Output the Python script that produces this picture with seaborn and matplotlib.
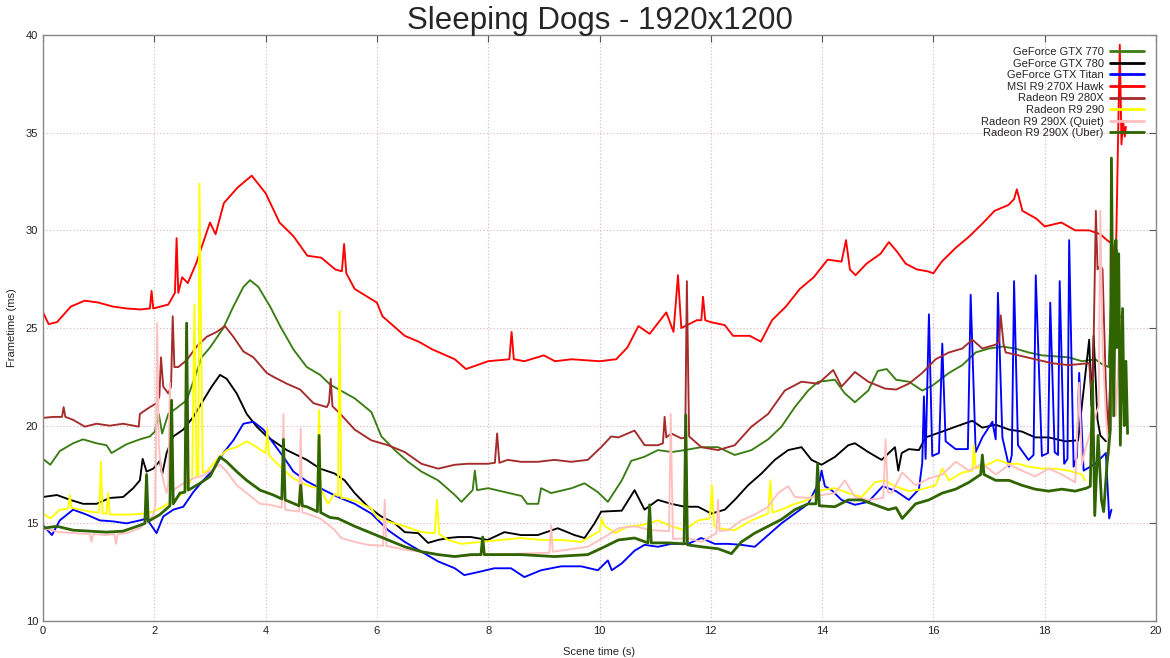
import matplotlib
matplotlib.use("Agg")
import matplotlib.pyplot as plt
from matplotlib import font_manager
from matplotlib.lines import Line2D
import pandas as pd
import seaborn as sns

# frametime readings (scene time s, frametime ms) per card
gtx770 = [(0, 18.3), (0.13, 18.0), (0.3, 18.7), (0.54, 19.1), (0.72, 19.3), (0.96, 19.1), (1.14, 19.0),
          (1.23, 18.6), (1.32, 18.75), (1.5, 19.05), (1.74, 19.3), (1.92, 19.45), (2.01, 19.7), (2.08, 20.6),
          (2.14, 19.6), (2.25, 20.6), (2.4, 20.9), (2.58, 21.3), (2.73, 22.5), (2.85, 23.5), (3.0, 24.0),
          (3.24, 25.0), (3.42, 26.1), (3.6, 27.1), (3.72, 27.45), (3.87, 27.1), (4.08, 26.1), (4.26, 25.1),
          (4.5, 23.9), (4.74, 23.0), (4.98, 22.6), (5.16, 22.1), (5.6, 21.4), (5.9, 20.7), (6.08, 19.45),
          (6.32, 18.75), (6.56, 18.15), (6.8, 17.65), (7.1, 17.2), (7.4, 16.45), (7.52, 16.1), (7.72, 16.7),
          (7.76, 17.7), (7.8, 16.7), (8.0, 16.8), (8.3, 16.6), (8.6, 16.4), (8.7, 16.0), (8.9, 16.0),
          (8.95, 16.8), (9.13, 16.55), (9.5, 16.8), (9.73, 17.05), (9.97, 16.6), (10.15, 16.1), (10.4, 17.2),
          (10.57, 18.2), (10.8, 18.4), (11.05, 18.75), (11.3, 18.65), (11.53, 18.75), (11.83, 18.9),
          (12.13, 18.9), (12.43, 18.5), (12.73, 18.75), (13.03, 19.3), (13.27, 19.95), (13.51, 20.95),
          (13.75, 21.8), (13.93, 22.25), (14.23, 22.35), (14.41, 21.65), (14.59, 21.2), (14.83, 21.8),
          (15.0, 22.8), (15.16, 22.9), (15.33, 22.35), (15.56, 22.25), (15.8, 21.8), (15.98, 22.05),
          (16.28, 22.7), (16.52, 23.1), (16.76, 23.75), (17.0, 23.95), (17.24, 24.05), (17.47, 23.95),
          (17.71, 23.75), (17.95, 23.6), (18.19, 23.55), (18.43, 23.5), (18.67, 23.3), (18.91, 23.4),
          (19.0, 23.2), (19.15, 23.0), (19.22, 28.5), (19.26, 26.9), (19.3, 29.0), (19.35, 22.0), (19.4, 25.5)]

gtx780 = [(0, 16.35), (0.25, 16.45), (0.49, 16.2), (0.72, 16.0), (0.96, 16.0), (1.2, 16.3), (1.44, 16.35),
          (1.62, 16.8), (1.74, 17.2), (1.79, 18.3), (1.86, 17.65), (1.98, 17.8), (2.1, 18.2), (2.14, 17.5),
          (2.22, 18.6), (2.34, 19.45), (2.52, 19.8), (2.7, 20.45), (2.88, 21.3), (3.03, 22.0), (3.18, 22.6),
          (3.3, 22.4), (3.48, 21.65), (3.66, 20.6), (3.84, 19.95), (4.02, 19.45), (4.2, 19.1), (4.38, 18.75),
          (4.56, 18.5), (4.74, 18.25), (4.98, 17.8), (5.24, 17.55), (5.42, 17.2), (5.6, 16.55), (5.84, 15.85),
          (6.08, 15.35), (6.32, 15.0), (6.5, 14.55), (6.74, 14.5), (6.92, 14.0), (7.1, 14.15), (7.28, 14.25),
          (7.46, 14.3), (7.69, 14.3), (7.99, 14.15), (8.29, 14.55), (8.59, 14.4), (8.89, 14.4), (9.25, 14.75),
          (9.55, 14.4), (9.73, 14.25), (9.91, 15.0), (10.03, 15.6), (10.4, 15.65), (10.63, 16.7), (10.81, 15.7),
          (11.05, 16.2), (11.29, 16.0), (11.53, 15.85), (11.77, 15.85), (12.01, 15.5), (12.25, 15.7),
          (12.43, 16.2), (12.67, 16.95), (12.91, 17.55), (13.15, 18.25), (13.39, 18.75), (13.63, 18.9),
          (13.81, 18.25), (13.99, 18.0), (14.23, 18.4), (14.47, 19.0), (14.59, 19.1), (14.83, 18.65),
          (15.07, 18.25), (15.31, 18.9), (15.37, 17.7), (15.43, 18.6), (15.56, 18.8), (15.74, 18.75),
          (15.86, 19.4), (16.16, 19.7), (16.4, 19.95), (16.7, 20.25), (16.88, 19.9), (17.12, 20.05),
          (17.36, 19.8), (17.59, 19.7), (17.83, 19.4), (18.07, 19.4), (18.37, 19.2), (18.6, 19.25),
          (18.8, 24.4), (18.84, 21.0), (18.88, 24.6), (18.95, 20.3), (19.0, 19.5), (19.1, 19.2)]

titan = [(0, 14.9), (0.16, 14.4), (0.3, 15.15), (0.54, 15.7), (0.78, 15.45), (1.02, 15.15), (1.26, 15.1),
         (1.5, 15.0), (1.74, 15.15), (1.86, 15.25), (2.04, 14.5), (2.16, 15.35), (2.34, 15.7), (2.52, 15.85),
         (2.7, 16.6), (2.88, 17.2), (3.06, 17.75), (3.24, 18.6), (3.42, 19.25), (3.6, 20.1), (3.78, 20.2),
         (3.96, 19.8), (4.14, 19.1), (4.32, 18.4), (4.5, 17.65), (4.74, 17.15), (4.98, 16.8), (5.3, 16.35),
         (5.6, 16.0), (5.9, 15.5), (6.2, 14.65), (6.5, 14.05), (6.8, 13.55), (7.1, 13.05), (7.4, 12.7),
         (7.57, 12.35), (7.81, 12.5), (8.11, 12.7), (8.41, 12.7), (8.65, 12.25), (8.95, 12.6), (9.31, 12.8),
         (9.67, 12.8), (9.97, 12.6), (10.15, 13.1), (10.22, 12.6), (10.4, 12.95), (10.63, 13.6), (10.81, 13.9),
         (11.05, 13.8), (11.29, 13.95), (11.59, 13.95), (11.83, 14.25), (12.07, 13.95), (12.31, 13.95),
         (12.55, 13.9), (12.79, 13.8), (13.03, 14.4), (13.27, 15.0), (13.51, 15.5), (13.75, 16.0),
         (13.96, 17.2), (13.99, 17.7), (14.05, 16.9), (14.17, 16.7), (14.35, 16.2), (14.59, 15.95),
         (14.83, 16.1), (15.09, 16.9), (15.33, 16.65), (15.56, 16.2), (15.74, 16.75), (15.8, 18.1),
         (15.83, 21.5), (15.86, 18.3), (15.92, 25.7), (15.98, 18.45), (16.1, 18.6), (16.16, 24.2),
         (16.22, 19.2), (16.4, 18.8), (16.62, 18.8), (16.67, 26.7), (16.76, 18.65), (16.88, 19.4),
         (17.06, 20.2), (17.12, 19.3), (17.16, 26.8), (17.24, 19.4), (17.36, 17.9), (17.41, 18.5),
         (17.45, 27.4), (17.52, 19.0), (17.71, 18.25), (17.8, 18.5), (17.84, 27.7), (17.95, 18.45),
         (18.06, 18.6), (18.1, 26.3), (18.18, 18.65), (18.24, 18.5), (18.27, 27.4), (18.35, 18.05),
         (18.41, 18.3), (18.44, 29.5), (18.52, 17.9), (18.58, 18.4), (18.62, 22.7), (18.7, 17.7),
         (18.91, 18.05), (19.1, 18.6), (19.16, 15.25), (19.2, 15.7)]

hawk = [(0, 25.8), (0.1, 25.2), (0.25, 25.3), (0.5, 26.1), (0.75, 26.4), (1.0, 26.3), (1.25, 26.1),
        (1.5, 26.0), (1.75, 25.95), (1.92, 26.0), (1.95, 26.9), (1.98, 26.0), (2.25, 26.2), (2.37, 26.8),
        (2.4, 29.6), (2.43, 26.8), (2.5, 27.6), (2.6, 27.3), (2.75, 28.3), (3.0, 30.4), (3.1, 29.8),
        (3.25, 31.4), (3.5, 32.2), (3.75, 32.8), (4.0, 31.9), (4.25, 30.4), (4.5, 29.7), (4.75, 28.7),
        (5.0, 28.6), (5.25, 28.0), (5.37, 27.9), (5.41, 29.3), (5.45, 27.8), (5.6, 27.0), (6.0, 26.3),
        (6.1, 25.6), (6.5, 24.6), (6.75, 24.3), (7.0, 23.9), (7.4, 23.4), (7.6, 22.9), (8.0, 23.3),
        (8.38, 23.4), (8.42, 24.8), (8.46, 23.4), (8.65, 23.3), (9.0, 23.6), (9.2, 23.3), (9.5, 23.4),
        (10.0, 23.3), (10.3, 23.4), (10.5, 24.0), (10.7, 25.1), (10.9, 24.7), (11.2, 25.8), (11.33, 24.8),
        (11.41, 27.7), (11.47, 25.0), (11.75, 25.4), (11.83, 25.4), (11.86, 26.6), (11.9, 25.4),
        (12.0, 25.3), (12.25, 25.15), (12.4, 24.6), (12.7, 24.6), (12.9, 24.3), (13.1, 25.4), (13.35, 26.1),
        (13.6, 27.0), (13.85, 27.6), (14.1, 28.5), (14.35, 28.4), (14.43, 29.5), (14.5, 28.0), (14.6, 27.7),
        (14.8, 28.3), (15.05, 28.8), (15.2, 29.4), (15.35, 28.9), (15.5, 28.3), (15.7, 28.0), (15.9, 27.9),
        (16.0, 27.8), (16.15, 28.4), (16.4, 29.1), (16.65, 29.7), (16.9, 30.4), (17.1, 31.0), (17.35, 31.3),
        (17.45, 31.6), (17.5, 32.1), (17.6, 31.0), (17.85, 30.6), (18.0, 30.2), (18.3, 30.4), (18.55, 30.0),
        (18.8, 30.0), (19.0, 29.8), (19.12, 29.5), (19.22, 29.3), (19.27, 27.0), (19.35, 39.5),
        (19.38, 34.4), (19.41, 35.6), (19.44, 34.8), (19.46, 35.3)]

r280x = [(0, 20.4), (0.19, 20.45), (0.34, 20.45), (0.37, 20.95), (0.4, 20.45), (0.54, 20.3), (0.75, 19.95),
         (0.96, 20.1), (1.2, 20.0), (1.44, 20.1), (1.72, 19.95), (1.74, 20.6), (1.92, 20.95), (2.04, 21.15),
         (2.09, 21.5), (2.12, 23.5), (2.16, 22.0), (2.25, 21.65), (2.3, 22.0), (2.33, 25.6), (2.36, 23.0),
         (2.43, 23.0), (2.58, 23.35), (2.76, 24.05), (2.94, 24.55), (3.12, 24.8), (3.27, 25.1), (3.42, 24.55),
         (3.6, 23.8), (3.78, 23.5), (4.02, 22.7), (4.14, 22.5), (4.38, 22.15), (4.62, 21.85), (4.86, 21.15),
         (5.1, 20.95), (5.14, 21.2), (5.17, 22.4), (5.2, 21.0), (5.36, 20.55), (5.6, 19.8), (5.9, 19.25),
         (6.2, 19.0), (6.5, 18.65), (6.8, 18.05), (7.1, 17.8), (7.4, 18.0), (7.63, 18.05), (7.99, 18.05),
         (8.12, 18.1), (8.16, 19.6), (8.2, 18.1), (8.35, 18.25), (8.59, 18.15), (8.89, 18.15), (9.19, 18.25),
         (9.49, 18.15), (9.79, 18.25), (10.03, 18.9), (10.21, 19.45), (10.34, 19.4), (10.63, 19.75),
         (10.81, 19.0), (11.05, 19.0), (11.14, 19.1), (11.17, 20.45), (11.2, 19.4), (11.29, 19.6),
         (11.47, 19.35), (11.54, 19.4), (11.57, 27.4), (11.61, 19.45), (11.83, 18.9), (12.13, 18.75),
         (12.43, 19.0), (12.73, 19.95), (13.03, 20.6), (13.33, 21.8), (13.63, 22.25), (13.93, 22.15),
         (14.2, 22.85), (14.35, 22.0), (14.59, 22.75), (14.83, 22.25), (15.13, 21.9), (15.33, 21.85),
         (15.56, 22.15), (15.8, 22.7), (16.04, 23.4), (16.28, 23.75), (16.52, 23.95), (16.7, 24.4),
         (16.88, 23.95), (17.12, 24.15), (17.18, 24.3), (17.21, 25.65), (17.26, 24.2), (17.3, 23.75),
         (17.53, 23.6), (17.83, 23.4), (18.13, 23.2), (18.43, 23.1), (18.8, 23.2), (18.86, 21.0),
         (18.92, 31.0), (18.95, 28.0), (19.0, 28.2), (19.04, 28.0), (19.1, 22.0), (19.14, 19.6),
         (19.2, 24.0), (19.4, 25.8)]

r290 = [(0, 15.5), (0.13, 15.25), (0.3, 15.7), (0.45, 15.75), (0.48, 16.45), (0.51, 15.8), (0.84, 15.6),
        (1.01, 15.55), (1.04, 18.15), (1.07, 15.5), (1.14, 15.5), (1.17, 16.55), (1.2, 15.45), (1.56, 15.45),
        (1.8, 15.5), (1.98, 15.6), (2.16, 15.85), (2.34, 16.2), (2.52, 16.55), (2.68, 17.3), (2.72, 26.2),
        (2.76, 17.4), (2.79, 17.5), (2.81, 32.4), (2.84, 25.0), (2.87, 17.6), (2.94, 17.65), (3.12, 18.25),
        (3.3, 18.75), (3.48, 18.9), (3.66, 19.2), (3.84, 18.9), (4.0, 18.6), (4.03, 19.85), (4.06, 18.5),
        (4.14, 18.25), (4.32, 17.75), (4.5, 17.3), (4.74, 16.95), (4.93, 16.8), (4.96, 20.8), (4.99, 16.75),
        (5.12, 16.0), (5.24, 16.5), (5.3, 16.4), (5.33, 25.85), (5.36, 16.3), (5.42, 16.3), (5.66, 16.1),
        (5.9, 15.75), (6.02, 15.25), (6.2, 15.1), (6.5, 14.85), (6.8, 14.55), (7.04, 14.5), (7.08, 16.2),
        (7.12, 14.45), (7.28, 14.15), (7.52, 13.95), (7.87, 14.05), (8.23, 14.15), (8.59, 14.25),
        (8.95, 14.15), (9.31, 14.15), (9.67, 14.05), (10.0, 14.6), (10.04, 15.25), (10.08, 14.9),
        (10.28, 14.5), (10.52, 14.85), (10.75, 14.9), (11.05, 15.15), (11.29, 14.85), (11.53, 14.65),
        (11.77, 15.15), (11.98, 15.25), (12.02, 16.95), (12.06, 14.9), (12.13, 14.75), (12.43, 14.65),
        (12.73, 15.15), (13.03, 15.5), (13.07, 17.2), (13.11, 15.55), (13.27, 15.7), (13.51, 16.0),
        (13.75, 16.2), (13.99, 16.7), (14.23, 16.8), (14.47, 16.55), (14.71, 16.35), (14.95, 17.1),
        (15.13, 17.2), (15.31, 16.9), (15.56, 16.65), (15.8, 16.75), (16.04, 16.95), (16.16, 17.8),
        (16.28, 17.2), (16.52, 17.6), (16.7, 17.7), (16.73, 19.0), (16.76, 17.8), (17.0, 18.05),
        (17.15, 18.25), (17.36, 18.05), (17.53, 18.05), (17.71, 17.9), (17.95, 17.8), (18.19, 17.8),
        (18.43, 17.7), (18.67, 17.5), (18.72, 17.2)]

quiet = [(0, 14.75), (0.3, 14.55), (0.54, 14.5), (0.84, 14.45), (0.87, 14.05), (0.9, 14.45), (1.14, 14.4),
         (1.28, 14.45), (1.31, 13.95), (1.34, 14.45), (1.5, 14.5), (1.74, 14.75), (1.98, 15.4), (2.02, 16.0),
         (2.05, 25.25), (2.08, 19.0), (2.12, 17.8), (2.16, 17.2), (2.22, 16.55), (2.25, 17.0), (2.28, 22.2),
         (2.31, 17.0), (2.34, 16.7), (2.52, 17.05), (2.7, 17.3), (2.88, 17.45), (3.06, 17.8), (3.18, 18.0),
         (3.3, 17.65), (3.48, 16.95), (3.66, 16.55), (3.9, 16.0), (4.08, 15.95), (4.29, 15.8), (4.32, 20.6),
         (4.35, 15.7), (4.6, 15.6), (4.63, 19.85), (4.66, 15.55), (4.74, 15.5), (4.98, 15.25), (5.16, 14.85),
         (5.24, 14.65), (5.36, 14.25), (5.6, 14.05), (5.84, 13.9), (6.11, 13.85), (6.14, 16.2), (6.17, 13.85),
         (6.5, 13.65), (6.8, 13.55), (7.1, 13.4), (7.4, 13.3), (7.99, 13.4), (8.59, 13.45), (9.1, 13.5),
         (9.13, 14.9), (9.16, 13.55), (9.79, 13.8), (10.15, 14.4), (10.34, 14.75), (10.63, 14.85),
         (10.93, 14.65), (11.25, 14.6), (11.28, 20.6), (11.32, 14.2), (11.59, 14.25), (11.83, 14.05),
         (12.1, 14.5), (12.13, 16.2), (12.16, 14.6), (12.31, 14.65), (12.55, 15.15), (12.79, 15.45),
         (13.03, 15.85), (13.21, 16.55), (13.39, 16.9), (13.51, 16.35), (13.75, 16.3), (13.99, 16.45),
         (14.23, 16.55), (14.41, 17.2), (14.59, 16.35), (14.83, 16.2), (15.1, 16.3), (15.14, 19.3),
         (15.18, 16.6), (15.25, 16.55), (15.44, 17.6), (15.68, 16.95), (15.92, 17.3), (16.16, 17.5),
         (16.4, 18.15), (16.64, 17.7), (16.88, 18.05), (17.12, 17.5), (17.36, 18.0), (17.59, 17.7),
         (17.83, 17.4), (18.07, 17.8), (18.31, 17.5), (18.55, 17.1), (18.62, 22.2), (18.67, 18.0),
         (18.73, 18.8), (18.91, 20.5), (18.97, 21.0), (19.0, 31.0), (19.04, 24.0), (19.1, 20.5),
         (19.16, 18.5), (19.22, 24.0), (19.28, 20.5), (19.36, 25.5)]

uber = [(0, 14.75), (0.25, 14.85), (0.54, 14.65), (0.84, 14.6), (1.14, 14.55), (1.44, 14.6), (1.74, 14.9),
        (1.83, 15.0), (1.86, 17.5), (1.89, 15.1), (2.1, 15.45), (2.28, 15.9), (2.31, 21.3), (2.34, 16.0),
        (2.46, 16.55), (2.55, 16.6), (2.58, 25.25), (2.61, 16.7), (2.82, 17.05), (3.0, 17.4), (3.18, 18.4),
        (3.3, 18.15), (3.48, 17.65), (3.66, 17.2), (3.9, 16.7), (4.14, 16.45), (4.29, 16.25), (4.32, 19.3),
        (4.35, 16.2), (4.6, 15.9), (4.63, 16.95), (4.66, 15.9), (4.74, 15.85), (4.93, 15.6), (4.96, 19.5),
        (4.99, 15.55), (5.16, 15.3), (5.3, 15.25), (5.6, 14.85), (5.9, 14.5), (6.2, 14.15), (6.5, 13.8),
        (6.8, 13.55), (7.1, 13.4), (7.4, 13.3), (7.69, 13.4), (7.87, 13.4), (7.9, 14.3), (7.93, 13.4),
        (8.59, 13.4), (9.19, 13.3), (9.79, 13.4), (10.09, 13.8), (10.34, 14.15), (10.63, 14.25),
        (10.87, 14.0), (10.9, 15.95), (10.93, 14.0), (11.23, 14.0), (11.52, 13.95), (11.55, 20.55),
        (11.58, 13.9), (11.83, 13.8), (12.13, 13.7), (12.37, 13.45), (12.55, 14.05), (12.79, 14.5),
        (13.03, 14.85), (13.27, 15.2), (13.51, 15.7), (13.75, 16.0), (13.89, 16.0), (13.92, 18.05),
        (13.95, 15.9), (14.23, 15.85), (14.47, 16.2), (14.71, 16.2), (14.95, 15.95), (15.19, 15.7),
        (15.33, 15.8), (15.44, 15.25), (15.68, 16.0), (15.92, 16.2), (16.16, 16.55), (16.4, 16.75),
        (16.64, 17.1), (16.85, 17.5), (16.88, 18.5), (16.91, 17.5), (17.12, 17.2), (17.36, 17.2),
        (17.59, 16.95), (17.83, 16.75), (18.07, 16.65), (18.31, 16.75), (18.55, 16.65), (18.75, 16.8),
        (18.82, 16.9), (18.86, 22.3), (18.9, 15.4), (18.96, 19.5), (19.02, 16.2), (19.06, 15.6),
        (19.12, 18.0), (19.18, 19.8), (19.2, 33.7), (19.24, 20.5), (19.28, 29.5), (19.3, 24.0),
        (19.33, 28.8), (19.36, 19.0), (19.4, 26.0), (19.43, 20.0), (19.46, 23.3), (19.49, 19.6)]

cards = ["GeForce GTX 770", "GeForce GTX 780", "GeForce GTX Titan", "MSI R9 270X Hawk",
         "Radeon R9 280X", "Radeon R9 290", "Radeon R9 290X (Quiet)", "Radeon R9 290X (Uber)"]
series = [gtx770, gtx780, titan, hawk, r280x, r290, quiet, uber]
colors = ["#3b7d14", "#000000", "#0000ff", "#ff0000", "#a52a2a", "#ffff00", "#ffbfbf", "#2f6400"]

rows = []
for card, pts in zip(cards, series):
    for t, ms in pts:
        rows.append({"card": card, "time": t, "ms": ms})
df = pd.DataFrame(rows)

sns.set_style("white")
names = {f.name for f in font_manager.fontManager.ttflist}
narrow = "Liberation Sans Narrow" if "Liberation Sans Narrow" in names else "Liberation Sans"
plt.rcParams["font.family"] = [narrow, "DejaVu Sans"]

fig = plt.figure(figsize=(11.7, 6.58), dpi=100)
ax = fig.add_axes([0.0368, 0.0562, 0.9512, 0.8906])

sns.lineplot(data=df, x="time", y="ms", hue="card", hue_order=cards,
             palette=dict(zip(cards, colors)), estimator=None, sort=False,
             linewidth=1.35, legend=False, ax=ax)
ax.lines[-1].set_linewidth(2.0)

ax.set_xlim(0, 20)
ax.set_ylim(10, 40)
ax.set_xticks(range(0, 21, 2))
ax.set_yticks(range(10, 41, 5))
ax.grid(True, color="#dcb4b4", linestyle=(0, (1, 2)), linewidth=0.8)
ax.tick_params(direction="in", top=True, right=True, length=5, width=0.8,
               color="#555555", labelsize=8, labelcolor="#222222")
for sp in ax.spines.values():
    sp.set_color("#888888")
    sp.set_linewidth(1.0)

ax.set_title("Sleeping Dogs - 1920x1200", fontsize=26 if narrow.endswith("Narrow") else 22.5, pad=4)
ax.set_xlabel("Scene time (s)", fontsize=8, labelpad=8)
ax.set_ylabel("Frametime (ms)", fontsize=8, labelpad=6)

handles = [Line2D([0], [0], color=c, lw=2) for c in colors]
ax.legend(handles, cards, loc="upper right", frameon=False, markerfirst=False,
          fontsize=8, handlelength=3.0, handletextpad=0.6, labelspacing=0.14,
          borderaxespad=0.9, borderpad=0.2)

fig.savefig("out.png", dpi=100)
